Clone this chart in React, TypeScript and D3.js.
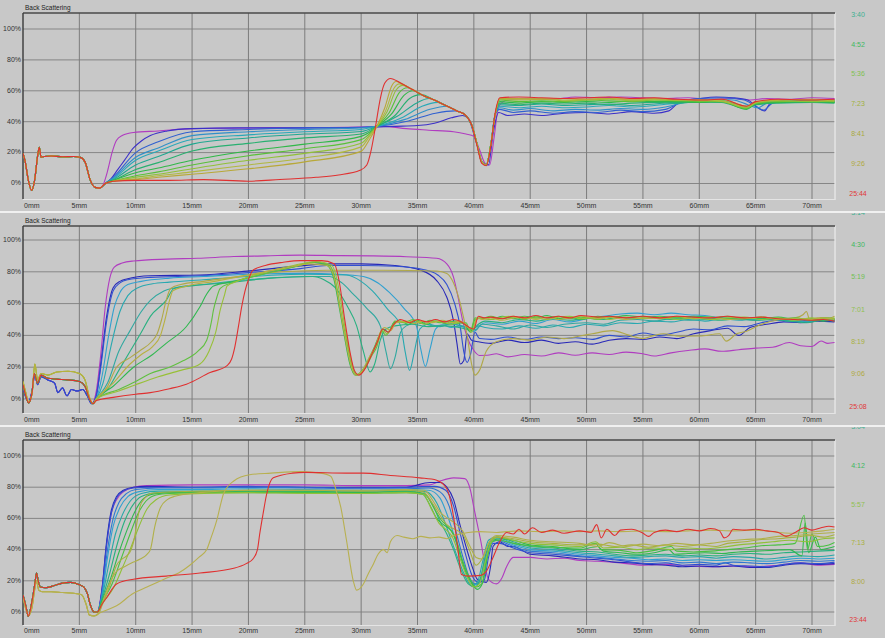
import React from "react";
import * as d3 from "d3";

type Pt = [number, number];

const X_TICKS = [0, 5, 10, 15, 20, 25, 30, 35, 40, 45, 50, 55, 60, 65, 70];
const Y_TICKS = [0, 20, 40, 60, 80, 100];
const TITLE = "Back Scattering";

// ---------------- Panel 1 ----------------
const P1_TIMES = ["3:40", "4:52", "5:36", "7:23", "8:41", "9:26", "25:44"];
const P1_START: Pt[] = [[0,19.5],[0.2,14],[0.45,3],[0.77,-4.5],[1.05,3],[1.3,18],[1.45,23.5],[1.6,17],[1.9,17.5],[2.5,17.8],[3.5,17.3],[4.5,17.5],[5.06,17],[5.5,14],[5.95,2.5],[6.4,-2.5],[6.8,-3]];
const P1_CURVES: Pt[][] = [
  [[7.1,-1],[7.5,8],[7.9,20],[8.3,28],[8.8,31],[9.8,33],[12,34],[15,35.5],[18,35.8],[22,36],[26,36.2],[30,36.5],[32,37],[34,35.5],[36,34.5],[38.2,33.5],[39.3,32],[40,30.5],[40.5,22],[41,13],[41.4,12],[41.8,30],[42.2,50],[43,54],[45,55],[47,54.5],[49,56],[51,55.5],[53,56],[55,55.5],[57,55],[59,55.5],[61,54.5],[63,55],[64.5,54],[66,55],[68,54.5],[70,55.5],[72,55]],
  [[7.3,0],[7.8,3],[8.4,9],[9,15],[9.8,23],[10.5,27.5],[11.3,31],[12.8,34],[15,35.5],[19,36],[23,36],[27,36],[31,36.5],[33,37],[35,37.5],[36.5,39],[38,42.5],[39,44],[39.5,42],[40.2,27],[40.8,13],[41.3,12],[41.7,32],[42.2,46],[43,44],[44.5,45],[46,44],[48,45.5],[50,46],[52,45],[54,46.5],[56,45.5],[57.3,47],[58.3,53],[60,55],[61.5,56],[63,55.5],[64.3,54],[65.2,49],[65.8,47],[66.3,52],[68,54],[70,53.5],[72,54]],
  [[7.3,0],[8,4],[10,20],[12,27],[15,33.5],[20,35],[25,36],[30,36.2],[31.4,37],[34.2,40.5],[36.6,45.5],[38.3,47],[39.3,44],[39.8,38],[40.3,25],[40.7,14],[41.1,12],[41.5,25],[41.9,45],[42.3,48],[43.5,46],[45,47],[47,45.5],[49,46.5],[51,46],[53,47.5],[55,46.5],[57,48],[58.5,53],[60,55],[62,55.5],[64,54],[65,50],[65.7,47.5],[66.5,52],[68,53.5],[70,53],[72,54]],
  [[7.3,0],[8,3.5],[10,17],[12,23],[15,31],[20,33.5],[25,35],[30,35.9],[31.4,37],[33.9,41.5],[36.1,48],[37.6,50],[38.5,47],[39.3,44],[39.8,38],[40.3,25],[40.7,14],[41.1,12],[41.5,25],[41.9,45],[42.3,49],[43.5,47.5],[45,48.5],[47,47],[49,48],[51,47.5],[53,48.5],[55,48],[57,49.5],[59,53],[61,54.5],[63,54],[64.3,51],[65.2,49],[66,52],[68,53],[70,53.5],[72,53]],
  [[7.3,0],[8,3],[10,15],[12,21],[15,28.5],[20,31.5],[25,33.5],[30,35],[31.4,37],[33.6,42.5],[35.4,50],[36.8,52.5],[37.5,50.5],[38.5,47],[39.3,44],[39.8,38],[40.3,25],[40.7,14],[41.1,12],[41.5,25],[41.9,45],[42.3,50],[44,49],[46,50],[48,49],[50,49.5],[52,50.5],[54,49.5],[56,50.5],[58,52],[60,53],[62,53.5],[64.2,50],[65,52],[67,53],[69,52.5],[72,53]],
  [[7.3,0],[8,2.5],[10,12],[12,17.5],[15,25.5],[20,29.5],[25,32],[30,33.7],[31.4,37],[33.2,43.5],[34.9,52],[36,55],[36.5,54],[37.5,50.5],[38.5,47],[39.3,44],[39.8,38],[40.3,25],[40.7,14],[41.1,12],[41.5,25],[41.9,45],[42.3,51],[44,50.5],[46,51.5],[48,50.5],[50,51],[52,51.5],[54,50.5],[56,51.5],[58,52.5],[60,52.5],[62,53],[64.2,49],[65,51.5],[67,52.5],[69,53],[72,52.5]],
  [[7.3,0],[8,2],[10,9],[12,13.5],[15,21],[20,26],[25,29.5],[30,32],[31.4,37],[33,44],[34.3,55],[35.3,57.5],[36.5,54],[37.5,50.5],[38.5,47],[39.3,44],[39.8,38],[40.3,25],[40.7,14],[41.1,12],[41.5,25],[41.9,45],[42.3,52],[44,51],[46,52],[48,51.5],[50,52],[52,51],[54,52],[56,52.5],[58,52],[60,53],[62,52.5],[64.2,48.5],[65,51],[67,52],[70,52.5],[72,52]],
  [[7.3,0],[8,2],[10,7],[12,10],[15,15],[20,21],[25,25.5],[30,30.5],[30.7,33],[31.4,37],[32.7,45],[33.8,57],[34.6,60],[35.5,57],[36.5,54],[37.5,50.5],[38.5,47],[39.3,44],[39.8,38],[40.3,25],[40.7,14],[41.1,12],[41.5,25],[41.9,45],[42.3,53],[44,52],[46,53],[48,52.5],[50,53],[52,52.5],[54,53.5],[56,53],[58,53],[60,52.5],[62,53],[64.2,48],[65,51.5],[67,52.5],[70,53],[72,52.5]],
  [[7.3,0],[8,1.5],[10,5],[12,7.5],[15,12],[20,18],[25,22.5],[30,28.4],[30.7,32],[31.4,37],[32.5,46],[33.4,59],[34.1,62],[34.5,61],[35.5,57],[36.5,54],[37.5,50.5],[38.5,47],[39.3,44],[39.8,38],[40.3,25],[40.7,14],[41.1,12],[41.5,25],[41.9,45],[42.3,54],[44,53],[46,53.5],[48,53],[50,54],[52,53.5],[54,53],[56,54],[58,53.5],[60,53],[62,53.5],[64.2,48.5],[65,52],[67,53],[70,53.5],[72,53]],
  [[7.3,0],[8,1.5],[10,4],[12,6],[15,9.5],[20,15],[25,19.5],[30,26],[30.7,31],[31.4,37],[32.3,46.5],[33.1,60.5],[33.7,63.5],[34.5,61],[35.5,57],[36.5,54],[37.5,50.5],[38.5,47],[39.3,44],[39.8,38],[40.3,25],[40.7,14],[41.1,12],[41.5,25],[41.9,45],[42.3,54.5],[44,54],[46,54.5],[48,53.5],[50,54],[52,54.5],[54,53.5],[56,54],[58,54],[60,53.5],[62,53],[64.2,49],[65,52],[67,53.5],[70,53],[72,53.5]],
  [[7.3,0],[8,1.5],[10,3],[12,5],[15,7.5],[20,12],[25,16.5],[30,23.7],[30.7,30],[31.4,37],[32.2,47.5],[32.9,61.5],[33.4,64.5],[34.5,61],[35.5,57],[36.5,54],[37.5,50.5],[38.5,47],[39.3,44],[39.8,38],[40.3,25],[40.7,14],[41.1,12],[41.5,25],[41.9,45],[42.3,55],[44,54.5],[46,55],[48,54],[50,54.5],[52,55],[54,54],[56,54.5],[58,54],[60,54],[62,53.5],[64.2,49.5],[65,52.5],[67,54],[70,54],[72,53.5]],
  [[7.3,0],[8,1.5],[10,2.5],[12,4],[15,6],[20,9.5],[25,14],[30,20.8],[30.7,28],[31.4,37],[32.1,49],[32.7,63],[33.1,66],[33.5,65],[34.5,61],[35.5,57],[36.5,54],[37.5,50.5],[38.5,47],[39.3,44],[39.8,38],[40.3,25],[40.7,14],[41.1,12],[41.5,25],[41.9,45],[42.3,55],[44,55],[46,54.5],[48,55],[50,54.5],[52,55],[54,54.5],[56,55],[58,54],[60,54],[62,54.5],[64.2,50],[65,53],[67,54],[70,54.5],[72,54]],
  [[7.3,0],[8,1.5],[10,2],[13,2],[16,2.5],[20,1.5],[22.8,2.6],[26,4],[28,5.5],[29.9,8.5],[30.5,12],[30.9,22],[31.3,38],[31.7,55],[32.1,65],[32.6,68],[33.5,65],[34.5,61],[35.5,57],[36.5,54],[37.5,50.5],[38.5,47],[39.3,44],[39.8,38],[40.3,24],[40.7,13],[41.1,11.5],[41.5,24],[41.9,46],[42.3,55.5],[44,56],[46,55.5],[48,55],[50,55.5],[52,56],[54,55],[56,55.5],[58,54.5],[60,54],[62,54.5],[64.2,50],[65,53],[67,54.5],[70,54],[72,54.5]],
];

// ---------------- Panel 2 ----------------
const P2_TIMES = ["3:14", "4:30", "5:19", "7:01", "8:19", "9:06", "25:08"];
const P2_START_LOW: Pt[] = [[0,8],[0.25,1],[0.5,-2],[0.8,5],[1.05,15],[1.3,9],[1.6,14],[2.2,12],[2.8,10],[3.1,4],[3.5,7],[3.9,2],[4.3,6],[4.8,5],[5.3,6],[5.7,2],[6.1,-3]];
const P2_START_MID: Pt[] = [[0,9],[0.25,2],[0.5,-2.5],[0.8,4],[1,16],[1.3,10],[1.6,15],[2.2,13],[3,12.5],[4,12],[5,11],[5.5,8],[5.9,0],[6.2,-3]];
const P2_START_HIGH: Pt[] = [[0,11],[0.25,4],[0.5,-2],[0.8,3],[1.05,22],[1.3,12],[1.6,16],[2.2,15],[3,17],[4,17.5],[5,16],[5.5,12],[5.9,1],[6.2,-3]];
const P2_START_OF = [0, 0, 0, 1, 1, 1, 1, 1, 2, 1, 2, 2, 1];
const P2_CURVES: Pt[][] = [
  [[6.5,5],[6.9,28],[7.3,58],[7.7,76],[8.1,83],[8.8,85.5],[9.8,86.8],[12.8,88],[15.5,88.5],[18.7,89.6],[21.5,90],[24.6,90.5],[28,90.2],[31,90],[34,89.5],[36.7,88.5],[37.6,85],[38.2,76.5],[38.6,64],[39,49.5],[39.4,39],[40,30.5],[40.5,27.4],[41.2,27.5],[42,28.5],[43,26.5],[44.5,28],[46,27],[47.5,29],[49,27.5],[50.5,29],[52,28],[53.5,29.5],[55,28.5],[56,27],[57.5,29],[59,30.5],[60.5,31.5],[62,30],[63.5,31],[65,32],[66.5,32.5],[68,35.5],[69,33.5],[70,33],[70.8,36.5],[71.4,35],[72,35.5]],
  [[6.5,2],[6.9,22],[7.4,51],[8,70],[8.6,74],[9.2,75.5],[11.3,77.5],[15.7,78],[20.1,80.6],[24.6,83.7],[27,85],[30,85],[33,84],[35.3,81],[36.7,74.5],[37.6,64],[38.2,49],[38.5,35],[38.8,22],[39.1,24],[39.4,41],[39.8,37],[40.4,36],[41.5,35],[43,37],[44.5,35.5],[46,37],[47.5,35],[49,36],[50.5,34.5],[52,37],[53.5,38],[55,37.5],[56.5,39],[58,38],[59.5,41],[61,43],[62.5,44.5],[63.5,40],[64.5,45],[66,47],[67.5,48.5],[69,48],[70.5,49],[72,48.5]],
  [[6.5,2],[6.9,20],[7.4,48],[8,68],[8.6,73],[9.3,75],[11.3,76.5],[15.7,77.5],[20,79.5],[24.6,82],[27,84],[30,84],[33,83.5],[35.5,81.5],[36.8,78],[37.6,72],[38.3,60],[38.8,45],[39.1,30],[39.4,23],[39.7,28],[40.1,42],[40.5,38],[41.5,37.5],[43,39],[44.5,37.5],[46,39],[47.5,38],[49,38.5],[50.5,37.5],[52,40],[53.5,39],[55,41.5],[56.5,40],[58,42],[59.5,44],[61,43.5],[62.5,46],[64,45.5],[65.5,48],[67,49.5],[68.5,48.5],[70,50],[72,49.5]],
  [[6.5,0],[7,14],[7.6,40],[8.1,58],[8.6,67],[9.3,72],[10.5,74],[13,76],[16,77],[20,78.5],[25,79],[28,78.5],[30.2,77],[31.5,73],[32.5,67],[33.8,57],[34.9,46],[35.3,31],[35.7,20.5],[36.1,31],[36.6,44],[37.2,46.5],[38,45],[38.8,46],[39.5,44],[40,42.5],[40.5,46],[41,48],[42.5,47],[44,49],[45.5,47.5],[47,50],[48.5,48.5],[50,50.5],[51.5,52],[53,53.5],[54.5,54],[56,53],[57.5,54],[59,53],[60.5,52.5],[62,51],[63.5,50.5],[65,50],[66.5,51],[68,50],[69.5,49],[71,50.5],[72,50]],
  [[6.5,0],[7.1,10],[7.8,33],[8.6,55],[9.3,65],[10.2,70],[11.5,72.5],[13,73.5],[16,75],[20,77],[25,78.5],[28.7,78],[30,74],[31,68],[32.4,56],[33.5,46],[33.9,30],[34.3,18],[34.7,29],[35.2,44],[36,47],[37,45.5],[38,47.5],[39,45.5],[39.8,43.5],[40.4,46],[41,45],[42.5,44],[44,46],[45.5,44.5],[47,46.5],[48.5,45],[50,47],[51.5,46],[53,48],[54.5,47.5],[56,49],[57.5,48.5],[59,50],[60.5,49],[62,50.5],[63.5,49.5],[65,51],[66.5,50],[68,49.5],[69.5,48.5],[71,50],[72,49.5]],
  [[6.5,0],[7.5,10],[8.5,30],[9.5,43],[10.5,55],[11.3,62],[12.5,68],[13.5,70],[16,72],[20,75],[25,77],[27.2,77],[28.3,73],[29.3,66],[30.5,57],[31.7,46],[32.2,30],[32.6,19],[33,26],[33.5,42],[34,46],[35,48],[36.5,46],[38,47],[39.5,45],[40.2,43.5],[40.7,47],[42,46],[43.5,44],[45,46.5],[46.5,45],[48,47],[50,48],[51.5,47],[53,49.5],[54.5,50],[56,49],[57.5,50.5],[59,49.5],[60.5,50],[62,51],[63.5,50],[65,49.5],[66.5,50.5],[68,49],[69.5,50],[71,49.5],[72,50.5]],
  [[6.5,0],[7.5,6],[8.5,18],[9.5,30],[10.5,42],[11.3,52],[12.7,62],[13.4,69.5],[15.7,71.7],[18,73],[22,76],[25.7,77],[26.7,75],[27.7,70],[28.8,58],[29.6,46],[30.2,30],[30.8,17],[31.2,22],[31.7,37],[32.2,44],[33,46],[34.5,47],[36,45.5],[37.5,46],[39,44.5],[39.8,43],[40.4,47],[41,49],[42.5,48],[44,50],[45.5,49],[47,50.5],[48.5,49.5],[50,51],[51.5,50],[53,51.5],[54.5,50.5],[56,51],[57.5,50],[59,51],[60.5,50.5],[62,49.5],[63.5,50.5],[65,49.5],[66.5,50],[68,49],[69.5,48],[71,49.5],[72,49]],
  [[6.5,0],[8,8],[9.8,20],[11.5,28],[12.7,35],[14.5,45.6],[15.7,58],[16.3,66],[16.9,71],[18.7,74],[21,78],[24,83],[25.7,86],[27,84],[27.6,75],[28,60],[28.5,40],[29,22],[29.5,15],[30.1,18],[30.8,27],[31.2,33],[31.6,40],[32,44],[32.4,42],[32.9,48],[33.5,49],[34.2,47],[35,49.5],[35.8,47],[36.6,49],[37.5,47.5],[38.3,49],[39.2,47],[39.7,42],[40.1,50],[40.6,51],[41.5,50],[42.5,52],[43.5,50.5],[44.5,52],[45.5,51],[46.5,52.5],[47.5,50.5],[48.5,51.5],[49.5,50],[51,52],[52,51],[53.5,52.5],[55,51.5],[56.5,52],[58,51],[59.5,52],[61,51.5],[62.5,50.5],[64,51],[65.5,50.5],[67,51.5],[68.5,50],[70,50.5],[71,49],[72,50]],
  [[6.5,-1],[7.5,8],[8.3,20],[9.5,26],[10.4,30.5],[11.4,36],[11.9,41],[12.3,50],[12.7,62],[13.1,69.5],[14,72],[16,74],[18,76],[20,78],[23,80],[27,81],[32,81],[36.7,80.5],[37.6,79],[38.2,73],[38.8,60],[39.4,40],[39.8,22],[40.1,15],[40.5,18],[41.1,30],[42,36],[43.5,38],[45,37],[46.5,39],[48,38],[49.4,39.6],[50.5,41],[52.3,43],[53.8,40],[55,38],[56,40],[56.8,41],[58.3,39.5],[60,39.6],[61.8,41],[62.4,36.4],[63.3,41],[64.2,42.6],[65.4,46.7],[67.1,50],[68.5,51],[69.2,53],[69.5,55],[69.8,50],[70.5,51],[71.6,51],[72,52]],
  [[6.5,0],[8.5,6],[10,11],[11.3,16],[13,20],[14.2,24],[15.5,30],[16.3,37],[16.7,48],[16.9,56],[17.2,64],[17.5,69.6],[18.5,73],[21,78],[24,83],[26,86],[27.2,84],[27.8,72],[28.2,55],[28.7,37],[29.2,20],[29.6,15],[30.2,18],[31,28],[31.4,33],[31.8,43],[32.2,40],[32.6,44],[33,49],[33.8,48],[34.6,50],[35.3,47.5],[36.1,49.5],[37,48],[37.8,49],[38.6,47.5],[39.3,48],[39.7,43],[40.1,51],[40.6,50.5],[41.5,52],[42.5,50.5],[43.5,51.5],[44.5,50],[45.5,52],[46.5,51],[47.5,52],[48.5,50.5],[49.5,51.5],[51,50],[52,52],[53.5,51],[55,52],[56.5,50.5],[58,51.5],[59.5,50.5],[61,51],[62.5,52],[64,50.5],[65.5,51.5],[67,50.5],[68.5,51],[70,49.5],[71,51],[72,50.5]],
  [[6.5,0],[8.5,5],[10,9],[12,14],[14,18],[15.7,22],[16.5,30],[17.1,42],[17.5,56],[17.9,66],[18.1,71],[19,74],[21,79],[24,84],[26,86.5],[27.4,84],[28,70],[28.4,52],[28.9,32],[29.3,19],[29.7,15.5],[30.3,19],[31,29],[31.5,36],[31.9,43],[32.3,41],[32.8,46],[33.3,49],[34,48],[34.8,49.5],[35.6,47],[36.4,49],[37.2,48.5],[38,47],[38.8,48.5],[39.4,46],[39.8,42],[40.2,50],[40.7,51],[41.5,50],[42.5,51.5],[43.5,52],[44.5,50.5],[45.5,51],[46.5,50],[47.5,51.5],[48.5,52],[49.5,50.5],[51,51.5],[52,50],[53.5,51.5],[55,50.5],[56.5,51.5],[58,50],[59.5,51],[61,50],[62.5,51],[64,51.5],[65.5,50],[67,51],[68.5,49.5],[70,51],[71,50],[72,51]],
  [[6.5,0],[8,10],[9.5,22],[10.5,28],[11.5,33],[12.2,40],[12.6,50],[13,62],[13.3,68],[14.5,71],[17,74],[20,78],[23,82],[25.5,85],[27,84],[27.7,74],[28.1,58],[28.6,38],[29.1,21],[29.5,15],[30,17],[30.7,26],[31.3,34],[31.7,42],[32.1,45],[32.6,43],[33.1,48],[34,49],[34.7,47.5],[35.5,49],[36.3,48],[37.2,49.5],[38,48],[38.8,49],[39.5,45],[39.9,44],[40.3,51],[40.8,50],[41.5,51],[42.5,49.5],[43.5,51],[44.5,51.5],[45.5,50],[46.5,51.5],[47.5,50],[48.5,51],[49.5,52],[51,50.5],[52,51.5],[53.5,50],[55,51],[56.5,50.5],[58,52],[59.5,50.5],[61,51.5],[62.5,50],[64,50.5],[65.5,51.5],[67,50],[68.5,50.5],[70,50],[71,51],[72,50]],
  [[6.5,-1],[8,1],[10,3],[11.3,4],[13,6.5],[14.5,9.3],[16.6,16.6],[18.1,21],[18.5,25],[18.8,33],[19.1,45],[19.4,58],[19.7,68],[20,75],[20.4,81],[21.5,84],[23.1,86],[24.6,87],[26.5,87],[27.6,85],[28.1,72],[28.5,52],[29,30],[29.4,18],[29.8,15],[30.3,18.5],[31,29],[31.5,37],[31.9,44],[32.4,42],[32.9,47],[33.5,50],[34.3,48],[35,50],[35.8,48.5],[36.6,50],[37.4,48.5],[38.2,50],[39,48],[39.6,45],[40,44],[40.4,52],[40.9,51],[41.5,51.5],[42.5,50.5],[43.5,52],[44.5,51],[45.5,52.5],[46.5,51],[47.5,52],[48.5,51],[49.5,52.5],[51,51.5],[52,52],[53.5,51],[55,52],[56.5,51],[58,52],[59.5,51.5],[61,51],[62.5,52],[64,51],[65.5,51.5],[67,50.5],[68.5,50],[70,49.5],[71,50],[72,49]],
];

// ---------------- Panel 3 ----------------
const P3_TIMES = ["3:04", "4:12", "5:57", "7:13", "8:00", "23:44"];
const P3_START: Pt[] = [[0,11],[0.25,4],[0.47,-2.8],[0.75,5],[1.05,18],[1.2,25],[1.35,20],[1.55,16],[2,15.5],[2.8,17],[3.5,18.5],[4.2,19],[5,17.5],[5.4,16],[5.7,12],[6,4],[6.3,0],[6.6,0]];
const P3_START_OLIVE: Pt[] = [[0,10],[0.25,2],[0.5,-2],[0.8,3],[1.05,15],[1.2,20],[1.4,14],[1.7,13],[2.5,13],[3.5,12.5],[4.5,12],[5.2,11],[5.6,5],[5.9,-2],[6.3,-2.5],[6.7,-1]];
const P3_START_OF = [0, 0, 0, 0, 0, 0, 0, 0, 0, 0, 1, 1, 1, 0];
const P3_CURVES: Pt[][] = [
  [[7,15],[7.4,42],[7.8,62],[8.3,72],[8.9,77],[9.8,80],[11,81],[15,81.5],[20,81.5],[25,81.5],[30,81],[34,81],[36.1,81.5],[37,84],[38.2,86],[39.2,85.5],[39.7,78],[40,67],[40.6,46],[41.3,21],[42,18],[42.5,22],[42.9,29],[43.5,35],[45,35],[46.5,34],[48,34.5],[49.4,33],[51,32.5],[53,31.5],[55,30],[57,30.5],[59,29.5],[61,29],[63,29.5],[65,29],[67,30],[69,31.5],[70.5,30],[72,30.5]],
  [[7,14],[7.4,44],[7.8,64],[8.3,74],[8.9,78],[9.8,80],[11,80.5],[15,80],[20,80],[25,80],[30,80],[34,80],[36.1,83],[37,83],[37.6,80],[38.2,72],[38.8,55],[39.4,39.5],[39.9,28],[40.3,21],[41.1,19],[41.5,30],[41.7,42],[42.3,45],[43,42],[43.5,42],[45,37],[47,36],[49.4,34],[51,33.5],[52.5,32],[54,31.5],[55.5,30.5],[57,30],[58.5,29],[60,29.5],[61.5,29],[63,29.5],[64.5,28.5],[66,28.5],[67.5,30],[69,31],[70.5,30.5],[72,31]],
  [[7,13],[7.4,42],[7.8,62],[8.3,73],[8.9,77.5],[9.8,79.5],[11,80],[15,80],[20,80.5],[25,80],[30,79.5],[34,80],[36.5,80.5],[37.5,78],[38.2,68],[38.8,50],[39.3,36],[39.8,24],[40.4,19],[40.9,20],[41.3,35],[41.7,44],[42.3,44],[43.5,41],[45,38],[47,37],[49.4,35.5],[51,34.5],[52.5,33.5],[54,32],[55.5,31],[57,31.5],[58.5,30],[60,30.5],[61.5,30],[62.3,31.5],[63,30],[64.5,29.5],[66,29],[67.5,30.5],[69,31.5],[70.5,31],[72,32]],
  [[7,12],[7.5,40],[8,60],[8.5,70],[9.2,76],[10,78.5],[12,79.5],[15,79.5],[20,80],[25,79.5],[30,79],[34,79],[36,79.5],[37,77],[37.8,68],[38.4,52],[39,36],[39.5,24],[40.1,18],[40.6,20],[41,33],[41.5,44],[42,46],[43.5,42],[45,39],[47,38],[49.4,36],[51,35],[52.5,34],[54,33],[55.5,32.5],[57,33],[58.5,31.5],[60,32],[61.5,31],[63,32],[64.5,31.5],[66,31],[67.5,32],[69,33],[70.5,32.5],[72,33]],
  [[7,10],[7.5,35],[8,55],[8.6,67],[9.3,74],[10.2,77],[12,78.5],[15,78.5],[20,79],[25,78.5],[30,78],[34,78.5],[36,78],[37,73],[37.6,63],[38.2,50],[38.8,36],[39.4,24],[40,17],[40.5,19],[40.9,32],[41.4,45],[42,47],[43.5,43],[45,40],[47,39],[49.4,37],[51,36],[52.5,35],[54,34.5],[55.5,33.5],[57,34],[58.5,33],[60,33.5],[61.5,33],[63,33.5],[64.5,33],[66,32.5],[67.5,33.5],[69,34.5],[70.5,34],[72,34.5]],
  [[7,9],[7.6,30],[8.2,50],[8.8,62],[9.5,71],[10.5,76],[12,77.5],[15,77.5],[20,78],[25,78],[30,77.5],[34,78],[35.8,77],[36.7,70],[37.3,60],[37.9,48],[38.5,36],[39.1,25],[39.8,17],[40.3,19],[40.8,33],[41.3,46],[42,48],[43.5,44],[45,41],[47,40],[49.4,38],[51,37],[52.5,36],[54,35],[55.5,35.5],[57,36],[58.5,35],[60,35.5],[61.5,34.5],[63,35.5],[64.5,35],[66,34],[67.5,35],[69,36],[70.5,35.5],[72,36.5]],
  [[7,8],[7.7,25],[8.3,42],[9,58],[9.7,68],[10.5,74],[12,76.5],[15,77],[20,77.5],[25,77.5],[30,77],[34,77.5],[35.6,76],[36.4,68],[37,58],[37.6,50],[38.2,40],[38.8,28],[39.5,18],[40.1,16],[40.6,22],[41.1,38],[41.6,47],[42.2,48],[43.5,45],[45,42],[47,41],[49.4,39],[51,38.5],[52.5,37],[54,36],[55.5,36.5],[57,37],[58.5,36],[60,36.5],[61.5,36],[63,37],[64.5,37.5],[66,37],[67.5,38],[69,38.5],[70.5,39],[72,39.5]],
  [[7,7],[7.8,22],[8.5,38],[9.2,52],[9.9,64],[10.6,72],[11.5,75.5],[13,76.5],[16,77],[20,77],[25,77],[30,76.5],[34,77],[35.4,76],[36.2,67],[36.7,60],[37.3,56],[38,52],[38.6,42],[39.1,29],[39.7,20],[40.3,14.5],[40.8,19],[41.2,35],[41.7,46],[42.3,47],[43.5,46],[45,43],[47,42],[49.4,40],[51,42],[51.5,39],[53,38],[54.5,37],[56,38],[57.3,40],[57.8,37],[59,37.5],[60.5,38],[62,37.5],[63.5,38.5],[65,39],[66.5,39.5],[68,40],[69.1,36],[69.4,57],[69.7,38],[70.3,48],[70.8,40],[71.5,41],[72,42]],
  [[7,6],[7.9,18],[8.7,34],[9.5,50],[10.2,63],[10.9,71],[11.8,75],[13,76],[16,76.5],[20,76.5],[25,76.5],[30,76],[34,76.5],[35.7,75],[36.5,66],[37.1,59],[37.8,54],[38.4,47],[39,33],[39.6,22],[40.2,16],[40.7,18],[41.1,33],[41.6,45],[42.2,46],[43.5,44],[45,42.5],[47,41.5],[49.4,41],[50.8,44],[51.3,40],[53,39.5],[54.5,38],[56,39.5],[57.5,42],[58,39],[59.5,38.5],[61,39],[62.5,40],[64,41],[65.5,42.5],[67,43],[68.5,44],[69.3,62],[69.6,40],[70,50],[70.5,42],[71.5,43],[72,44.5]],
  [[7,5],[8,15],[8.8,28],[9.5,40],[10.3,55],[11,66],[11.8,72],[13,75],[16,76],[20,76.5],[25,76],[30,76],[34,76.5],[35.5,75.5],[36.3,65],[36.9,57],[37.5,53],[38.1,48],[38.7,36],[39.3,24],[40,16],[40.5,18],[41,32],[41.5,44],[42.1,48],[43.5,46],[45,44],[47,43],[49.4,42],[50.8,45],[51.5,41],[53,41.5],[54.5,40],[56,41],[57.5,40],[59,41],[60.5,40.5],[62,41.5],[63.5,43],[65,44],[66.5,45],[68,46],[69.5,45],[71,47],[72,47.5]],
  [[7,4],[7.7,17],[8.3,30],[8.8,34],[9.2,36],[9.6,40],[9.9,48],[10.1,57],[10.4,68],[10.8,73],[11.3,76],[13,77],[16,77.5],[20,78],[25,78],[30,77.5],[34,78],[35.5,77],[36.3,70],[37,62],[37.6,56],[38.3,53],[39,50],[39.6,40],[40.2,30],[40.8,35],[41.4,45],[42,48],[43.5,47],[45,45],[47,44],[49.4,43],[51,43.5],[52.5,42],[54,43],[55.5,41.5],[57,43],[58.5,42],[60,43],[61.5,42],[62.5,44],[64,45],[65.5,46.5],[67,47],[68.5,48],[70,49],[71,48],[72,49.5]],
  [[7,5],[7.6,17],[8.3,26],[9,29],[9.8,32],[10.4,34],[11,37],[11.3,40],[11.7,55],[12.2,67],[12.8,72],[13.4,74],[15.7,76.5],[20,78],[25,78],[30,78],[34,78.5],[35.6,78],[36.4,71],[37,64],[37.7,60],[38.3,57],[39,52],[39.6,43],[40.2,35],[40.7,34],[41.3,44],[42,49],[43.5,48],[45,46],[47,45],[49.4,44],[51,42],[52,44.5],[53.5,42],[55,43.5],[56.5,42.5],[58,44],[59.5,43],[61,44],[62.5,45.5],[64,46.5],[65.5,47],[67,48.5],[68.5,49],[70,50],[71,50.5],[72,51]],
  [[7,0],[8.3,4],[9.8,12],[11,16],[12.7,21.6],[13.8,25],[14.8,30],[15.6,35],[16.3,40],[16.7,48],[17.2,59],[17.5,68],[17.8,76],[18.7,84],[20.1,88],[22,89],[24.6,90],[26.4,89],[27.3,87],[27.7,80],[28.2,67],[28.7,46],[29.3,20],[29.6,14],[30.2,18],[30.6,24],[31.1,31],[31.5,37],[32,40],[32.3,38],[32.6,45],[33.2,49],[33.8,48],[34.6,47],[35.3,48.5],[36.1,47.5],[36.9,48],[37.6,47],[38.2,49],[38.8,50],[39.5,51],[40.5,51.5],[42,51],[44,52],[46,51.5],[48,52],[49.4,51.5],[51,52],[53,51.5],[55,52],[57,51.5],[59,52],[61,52.5],[63,52],[65,52.5],[66.5,51.5],[68,50.5],[69.5,51],[71,52],[72,53]],
  [[7,5],[7.4,9],[8.3,18],[9.8,21],[12.7,23],[15.7,25],[18.7,28],[19.8,31],[20.4,34],[20.8,40],[21,50],[21.3,63],[21.6,75],[22.2,86],[23.9,89],[25,89.5],[28.7,89],[30.2,89],[32.6,87.5],[35.2,86],[36.7,84.5],[37.6,79],[38.2,61],[38.6,39.5],[38.9,24],[39.5,23],[40.6,23.5],[41.1,26],[41.7,35],[42.3,45],[42.9,51],[43.5,50],[44,53],[44.5,50],[45.2,54],[46,51],[47,52.5],[48,50.5],[49.4,52],[50.4,51],[50.9,56],[51.3,47.5],[51.8,53],[52.5,49],[53,52.5],[54,53],[55,50.5],[55.5,48.5],[56,51],[57,52.5],[58,51.5],[59,53],[60,52],[61,53.5],[61.8,52],[62.2,47.5],[62.6,49],[63,53],[64,52.5],[65,53],[66,52],[67,51],[67.7,48.5],[68.5,51],[69.3,54],[70,52.5],[70.8,54],[71.5,55],[72,54.5]],
];

// ---------------- styles ----------------
const P1_COLORS = ["#b03cc0","#3c30c8","#3060d0","#3090c8","#28a8b8","#20a890","#28b070","#30b848","#58c038","#90c038","#b0b840","#b8a838","#e03030"];
const P2_COLORS = ["#b03cc0","#2828b8","#3050d0","#30a0d0","#28a8b0","#30a8a0","#28b080","#30b850","#b0a848","#60c040","#98c038","#b8b040","#e03030"];
const P3_COLORS = ["#b03cc0","#2828b8","#3050d0","#3078d0","#30a0d0","#28a8a8","#28b080","#30b850","#48c040","#90c038","#a8b040","#b0b048","#b8b050","#e03030"];
const P1_TIME_COLORS = ["#40b090","#40b860","#80c050","#a0b040","#a8a840","#b0a840","#e03838"];
const P2_TIME_COLORS = ["#40b090","#40b860","#70c050","#90c050","#a8b040","#b0a840","#e03838"];
const P3_TIME_COLORS = ["#40b090","#40b860","#90c050","#a8b040","#b0a840","#e03838"];

const X0 = 23;
const X70 = 812;
const XR = 835;

interface Geo { top: number; bottom: number; frameTop: number; y100: number; y0: number; frameBottom: number; xLab: number; legY0: number; legStep: number; }

const GEOS: Geo[] = [
  { top: 0, bottom: 211, frameTop: 13, y100: 29, y0: 183.5, frameBottom: 199, xLab: 206, legY0: 15, legStep: 29.8 },
  { top: 213, bottom: 425, frameTop: 226, y100: 240, y0: 399, frameBottom: 413, xLab: 420, legY0: 213, legStep: 32.3 },
  { top: 427, bottom: 638, frameTop: 440, y100: 456, y0: 612, frameBottom: 625, xLab: 631, legY0: 427.5, legStep: 38.6 },
];

function Panel(props: { idx: number; geo: Geo; curves: Pt[][]; colors: string[]; times: string[]; timeColors: string[] }) {
  const { idx, geo, curves, colors, times, timeColors } = props;
  const x = d3.scaleLinear().domain([0, 70]).range([X0, X70]);
  const y = d3.scaleLinear().domain([0, 100]).range([geo.y0, geo.y100]);
  const line = d3.line<Pt>().x((d) => x(d[0])).y((d) => y(d[1])).curve(d3.curveMonotoneX);
  const clipId = `plotclip${idx}`;
  const legClip = `legclip${idx}`;
  return (
    <g>
      <defs>
        <clipPath id={clipId}>
          <rect x={X0} y={geo.frameTop} width={XR - X0} height={geo.frameBottom - geo.frameTop} />
        </clipPath>
        <clipPath id={legClip}>
          <rect x={836} y={geo.top} width={49} height={geo.bottom - geo.top} />
        </clipPath>
      </defs>
      {/* grid */}
      {Y_TICKS.map((t) => (
        <line key={"h" + t} x1={X0} x2={XR} y1={y(t)} y2={y(t)} stroke="#868686" strokeWidth={1} />
      ))}
      {X_TICKS.filter((t) => t > 0).map((t) => (
        <line key={"v" + t} x1={x(t)} x2={x(t)} y1={geo.frameTop} y2={geo.frameBottom} stroke="#7c7c7c" strokeWidth={1} />
      ))}
      {/* frame */}
      <line x1={XR} x2={XR} y1={geo.frameTop} y2={geo.frameBottom + 1} stroke="#ececec" strokeWidth={1.2} />
      <line x1={X0} x2={XR} y1={geo.frameBottom + 0.5} y2={geo.frameBottom + 0.5} stroke="#e4e4e4" strokeWidth={1} />
      <line x1={X0} x2={XR} y1={geo.frameTop} y2={geo.frameTop} stroke="#4a4a4a" strokeWidth={1.6} />
      <line x1={X0} x2={X0} y1={geo.frameTop} y2={geo.frameBottom} stroke="#3a3a3a" strokeWidth={1.4} />
      {/* curves */}
      <g clipPath={`url(#${clipId})`} fill="none">
        {curves.map((c, i) => (
          <path key={i} d={line(c) || ""} stroke={colors[i]} strokeWidth={1.1} strokeLinejoin="round" />
        ))}
      </g>
      {/* texts */}
      <text x={25} y={geo.top + 8} fontSize={6.5} fill="#222" dominantBaseline="middle">{TITLE}</text>
      {Y_TICKS.map((t) => (
        <text key={"yl" + t} x={21} y={y(t)} fontSize={7} fill="#333" textAnchor="end" dominantBaseline="middle">{t + "%"}</text>
      ))}
      {X_TICKS.map((t) => (
        <text key={"xl" + t} x={t === 0 ? X0 + 1 : x(t)} y={geo.xLab} fontSize={7} fill="#333" textAnchor={t === 0 ? "start" : "middle"} dominantBaseline="middle">{t + "mm"}</text>
      ))}
      <g clipPath={`url(#${legClip})`}>
        {times.map((s, i) => (
          <text key={"tm" + i} x={858} y={geo.legY0 + i * geo.legStep} fontSize={7} fill={timeColors[i]} textAnchor="middle" dominantBaseline="middle">{s}</text>
        ))}
      </g>
    </g>
  );
}

export default function App() {
  const p2 = P2_CURVES.map((c, i) => [P2_START_LOW, P2_START_MID, P2_START_HIGH][P2_START_OF[i]].concat(c));
  const p3 = P3_CURVES.map((c, i) => [P3_START, P3_START_OLIVE][P3_START_OF[i]].concat(c));
  const p1 = P1_CURVES.map((c) => P1_START.concat(c));
  return (
    <svg width={885} height={638} style={{ position: "absolute", left: 0, top: 0, display: "block" }} fontFamily="'Liberation Sans', Arial, sans-serif">
      <rect x={0} y={0} width={885} height={638} fill="#c8c8c8" />
      <Panel idx={0} geo={GEOS[0]} curves={p1} colors={P1_COLORS} times={P1_TIMES} timeColors={P1_TIME_COLORS} />
      <Panel idx={1} geo={GEOS[1]} curves={p2} colors={P2_COLORS} times={P2_TIMES} timeColors={P2_TIME_COLORS} />
      <Panel idx={2} geo={GEOS[2]} curves={p3} colors={P3_COLORS} times={P3_TIMES} timeColors={P3_TIME_COLORS} />
      <rect x={0} y={211} width={885} height={2} fill="#f0f0f0" />
      <rect x={0} y={425} width={885} height={2} fill="#f0f0f0" />
    </svg>
  );
}
